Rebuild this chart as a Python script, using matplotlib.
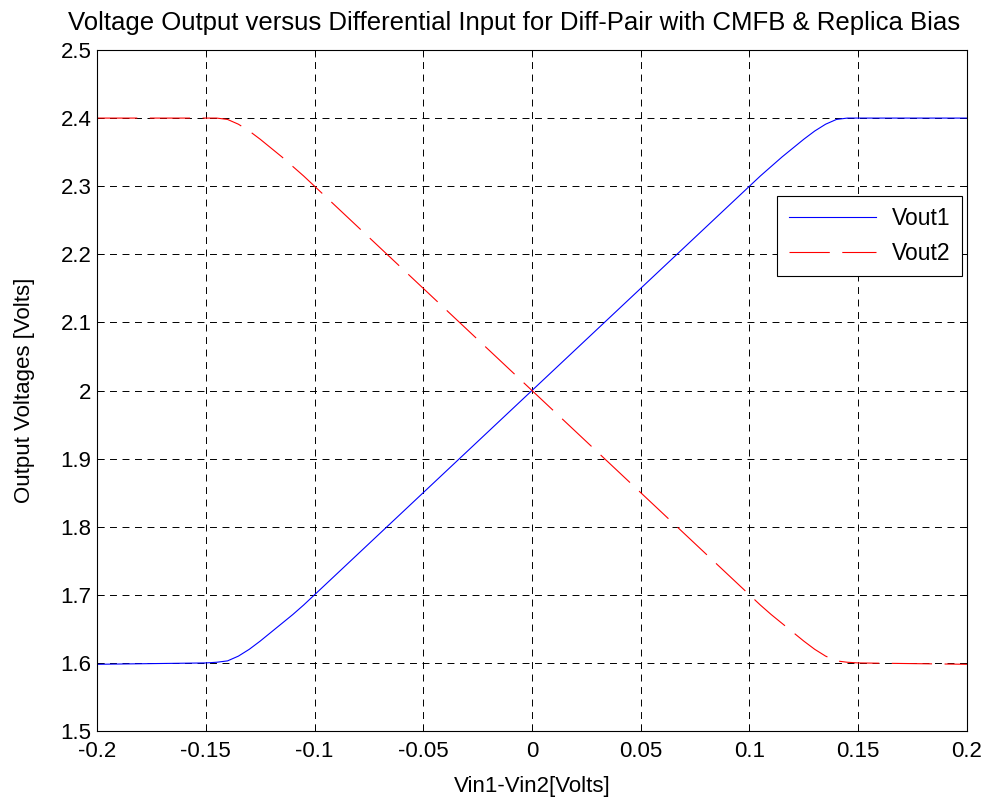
import numpy as np
import matplotlib.pyplot as plt

plt.rcParams['font.family'] = ['Liberation Sans', 'DejaVu Sans']
plt.rcParams['lines.scale_dashes'] = False

# values
vin = [-0.2, -0.15, -0.145, -0.14, -0.135, -0.13, -0.125, -0.12, -0.115, -0.11, -0.105, -0.1,
       -0.05, 0.0, 0.05, 0.1, 0.105, 0.11, 0.115, 0.12, 0.125, 0.13, 0.135, 0.14, 0.145, 0.15, 0.2]
vout1 = [1.598, 1.600, 1.601, 1.603, 1.610, 1.620, 1.632, 1.645, 1.658, 1.671, 1.685, 1.700,
         1.850, 2.000, 2.150, 2.300, 2.315, 2.329, 2.343, 2.356, 2.369, 2.381, 2.391, 2.398, 2.400, 2.400, 2.400]
vout2 = [2.400, 2.400, 2.400, 2.398, 2.391, 2.381, 2.369, 2.356, 2.343, 2.329, 2.315, 2.300,
         2.150, 2.000, 1.850, 1.700, 1.685, 1.671, 1.658, 1.645, 1.632, 1.620, 1.610, 1.603, 1.601, 1.600, 1.598]

xticks = [-0.2, -0.15, -0.1, -0.05, 0, 0.05, 0.1, 0.15, 0.2]
xlabels = ['-0.2', '-0.15', '-0.1', '-0.05', '0', '0.05', '0.1', '0.15', '0.2']
yticks = [1.5, 1.6, 1.7, 1.8, 1.9, 2.0, 2.1, 2.2, 2.3, 2.4, 2.5]
ylabels = ['1.5', '1.6', '1.7', '1.8', '1.9', '2', '2.1', '2.2', '2.3', '2.4', '2.5']

fs = 16

fig = plt.figure(figsize=(9.87, 8.06), dpi=100)
ax = fig.add_axes([0.0983, 0.093, 0.8814, 0.845])

ax.plot(vin, vout1, color='blue', lw=0.8, label='Vout1')
ax.plot(vin, vout2, color='red', lw=0.8, linestyle=(0, (29, 9)), label='Vout2')

ax.set_xlim(-0.2, 0.2)
ax.set_ylim(1.5, 2.5)
ax.set_xticks(xticks, xlabels)
ax.set_yticks(yticks, ylabels)
ax.tick_params(direction='in', top=True, right=True, labelsize=fs, length=5, width=0.6)
ax.tick_params(axis='x', pad=7)
ax.tick_params(axis='y', pad=4)
ax.grid(True, color='black', lw=0.7, linestyle=(0, (5, 4)))
for s in ax.spines.values():
    s.set_linewidth(0.8)

ax.set_xlabel('Vin1-Vin2[Volts]', fontsize=fs, labelpad=10)
ax.set_ylabel('Output Voltages [Volts]', fontsize=fs, labelpad=18)
fig.text(514 / 987, 1 - 30 / 806,
         'Voltage Output versus Differential Input for Diff-Pair with CMFB & Replica Bias',
         fontsize=18.5, ha='center', va='baseline')

leg = ax.legend(loc='upper right', bbox_to_anchor=(0.994, 0.786), borderaxespad=0,
                fontsize=16.5, fancybox=False, edgecolor='black', framealpha=1,
                handlelength=3.8, handletextpad=0.7, borderpad=0.5, labelspacing=0.5)
leg.get_frame().set_linewidth(0.8)

fig.savefig('out.png', dpi=100)
